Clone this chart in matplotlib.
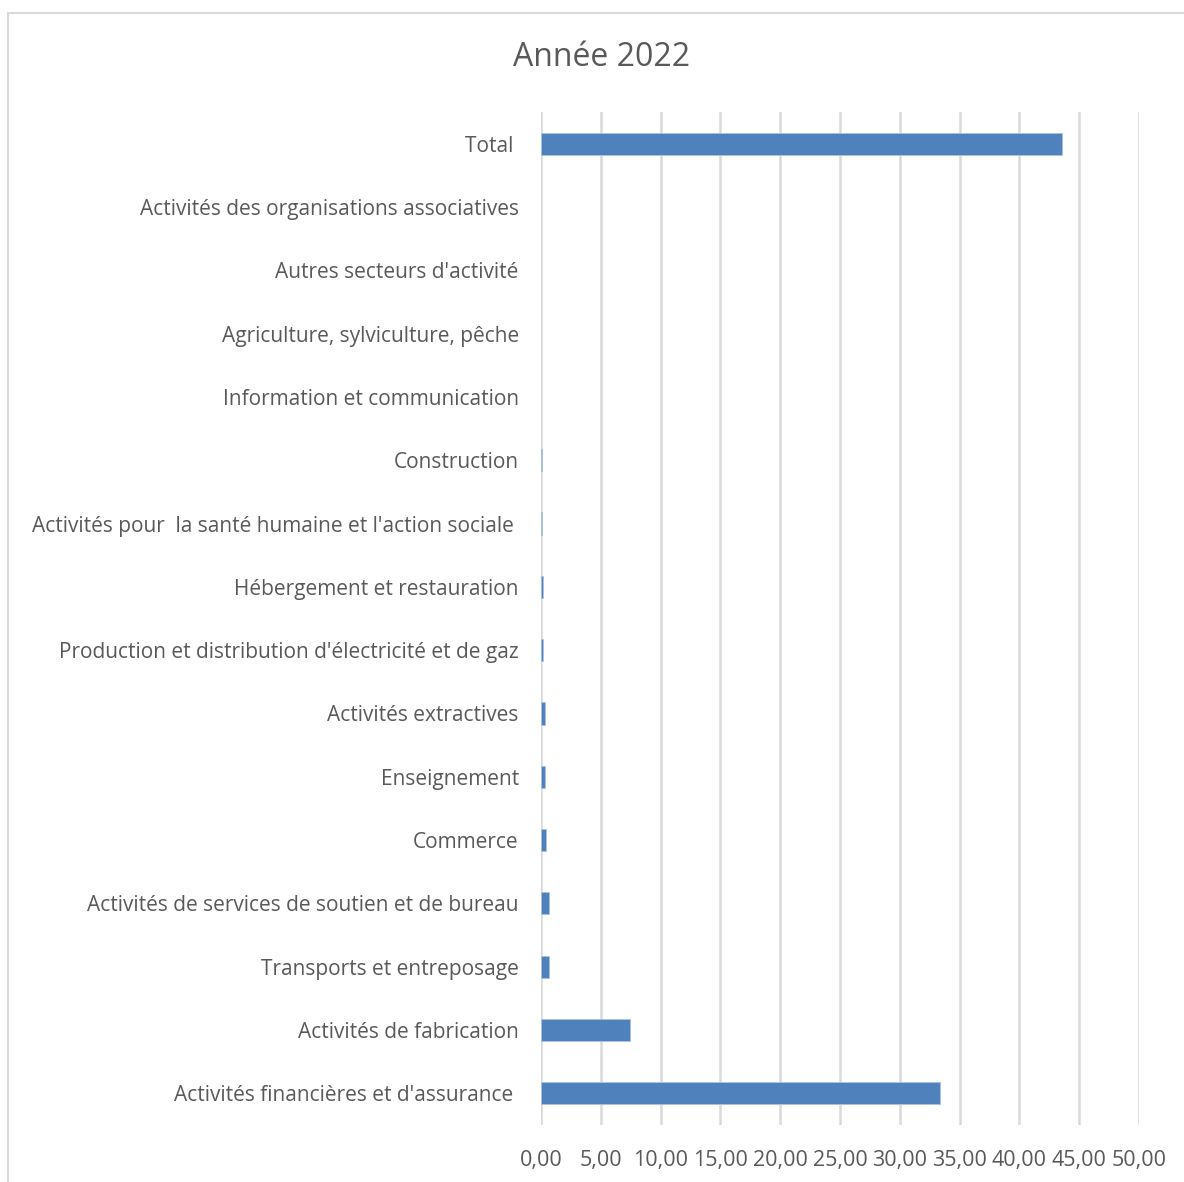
import matplotlib.pyplot as plt
from matplotlib.patches import Rectangle
from matplotlib.ticker import FuncFormatter

plt.rcParams['font.family'] = ['Open Sans', 'DejaVu Sans']

# secteurs, du bas vers le haut
secteurs = [
    "Activités financières et d'assurance ",
    "Activités de fabrication",
    "Transports et entreposage",
    "Activités de services de soutien et de bureau",
    "Commerce",
    "Enseignement",
    "Activités extractives",
    "Production et distribution d'électricité et de gaz",
    "Hébergement et restauration",
    "Activités pour  la santé humaine et l'action sociale ",
    "Construction",
    "Information et communication",
    "Agriculture, sylviculture, pêche",
    "Autres secteurs d'activité",
    "Activités des organisations associatives",
    "Total ",
]
valeurs = [33.4, 7.45, 0.7, 0.7, 0.45, 0.35, 0.35, 0.2, 0.2, 0.05, 0.05, 0, 0, 0, 0, 43.6]
graduations = [0, 5, 10, 15, 20, 25, 30, 35, 40, 45, 50]

fig = plt.figure(figsize=(11.84, 11.82), dpi=100)
fig.patches.append(Rectangle((8 / 1184, -0.01), 1.02, 1 - 13 / 1182 + 0.01,
                             transform=fig.transFigure, fill=False,
                             edgecolor='#d9d9d9', linewidth=1.5))

ax = fig.add_axes([541 / 1184, 1 - 1125 / 1182, 598 / 1184, 1013 / 1182])
y = range(len(secteurs))
bars = ax.barh(y, valeurs, height=0.35, color='#4f81bd', edgecolor='#a9c4e4', linewidth=0.6, zorder=3)
for b, v in zip(bars, valeurs):
    if v == 0:
        b.set_visible(False)

ax.set_xlim(0, 50)
ax.set_ylim(-0.5, len(secteurs) - 0.5)
ax.set_xticks(graduations)
ax.xaxis.set_major_formatter(FuncFormatter(lambda v, p: f"{v:.2f}".replace('.', ',')))
ax.set_yticks(list(y))
ax.set_yticklabels(secteurs)
ax.grid(axis='x', color='#d9d9d9', linewidth=1.8, zorder=0)
for s in ax.spines.values():
    s.set_visible(False)
ax.tick_params(axis='both', length=0, colors='#595959')
ax.tick_params(axis='y', pad=16, labelsize=15)
ax.tick_params(axis='x', pad=18, labelsize=15.5)

fig.text(602 / 1184, 1 - 58 / 1182, "Année 2022", ha='center', va='center',
         fontsize=23, color='#595959')

fig.savefig('out.png', dpi=100)
